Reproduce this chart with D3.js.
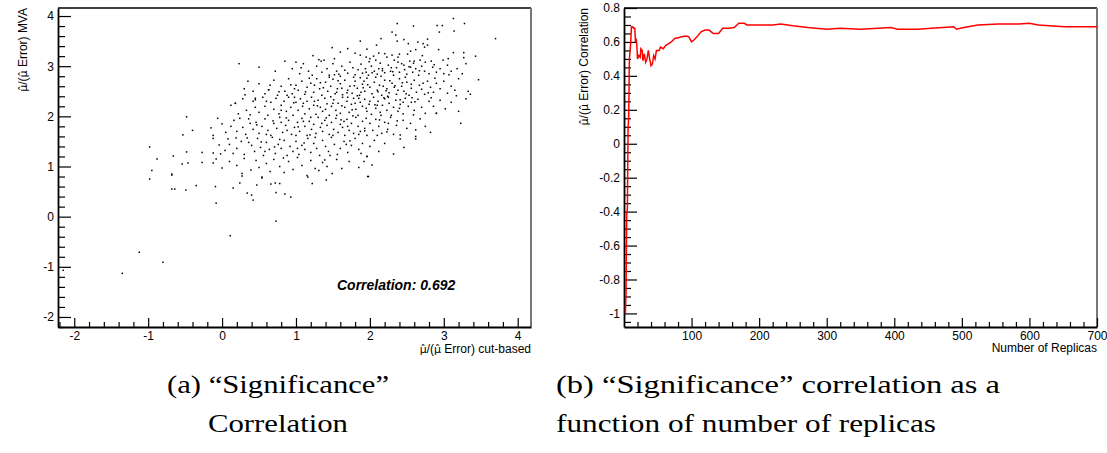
<!DOCTYPE html>
<html><head><meta charset="utf-8">
<script src="https://cdn.jsdelivr.net/npm/d3@7"></script>
<style>body{margin:0;background:#fff}svg{display:block}</style>
</head><body>
<svg id="c" width="1107" height="453"></svg>
<script>
// ---------- data ----------
const scatterPoints = [
[2.37,3.85],[2.59,3.8],[2.91,3.81],[2.98,3.81],[3.13,3.95],[3.28,3.85],[3.14,3.7],[2.94,3.68],[3.7,3.55],[2.3,3.68],[2.35,3.62],[2.37,3.5],
[2.46,3.53],[2.52,3.45],[2.65,3.48],[2.72,3.45],[2.78,3.54],[2.78,3.42],[2.74,3.38],[2.62,3.33],[2.55,3.3],[2.51,3.24],[2.4,3.24],[2.38,3.18],[1.87,3.5],[2.09,3.42],[1.96,3.34],[1.8,3.26],[2.12,3.26],[2.2,3.25],[2.23,3.18],[2.3,3.22],[1.31,3.13],[1.34,3.1],[1.87,3.22],[1.95,3.18],[2.0,3.15],[2.05,3.2],[2.08,3.12],[2.93,3.33],[3.13,3.27],[3.27,3.27],[3.27,3.17],[3.43,3.2],[3.06,3.15],[2.99,3.12],[2.83,3.1],[2.75,3.08],[2.68,3.12],[2.59,3.06],[2.54,3.1],[2.46,3.02],[2.38,3.08],[1.6,3.28],[1.7,3.35],[2.15,3.55],[1.52,3.15],
[0.95,2.95],[1.05,2.85],[1.17,2.9],[1.22,2.82],[1.28,3.0],[1.35,2.88],[1.42,2.95],[1.45,2.82],[1.5,3.05],[1.55,2.9],[1.58,2.84],[1.62,3.0],[1.66,2.92],[1.7,2.86],[1.73,3.08],[1.77,2.97],[1.8,2.83],[1.84,2.93],[1.88,3.04],[1.9,2.86],[1.94,2.95],[1.98,2.82],[2.02,3.0],[2.06,2.9],[2.1,2.84],[2.14,3.06],[2.17,2.95],[2.2,2.87],[2.25,3.02],[2.28,2.9],[2.32,2.82],[2.36,2.97],[2.4,2.88],[2.43,3.05],[2.47,2.93],[2.5,2.84],[2.55,2.98],[2.58,2.88],[2.62,2.95],[2.66,2.82],[2.7,3.0],[2.74,2.9],[2.8,2.85],[2.85,2.98],[2.9,2.88],[2.95,2.95],[3.0,2.85],[3.05,3.02],[3.1,2.9],[3.18,2.95],[3.25,2.85],[3.3,3.05],[0.72,2.9],[0.85,3.1],[1.1,3.05],[1.38,3.12],[1.95,2.88],[2.12,2.95],[2.33,3.12],[2.6,3.1],[2.15,2.8],[1.6,2.8],[0.5,2.98],[1.0,3.08],
[0.3,2.55],[0.42,2.5],[0.5,2.65],[0.58,2.45],[0.63,2.53],[0.7,2.72],[0.75,2.42],[0.8,2.6],[0.85,2.5],[0.9,2.75],[0.95,2.45],[1.0,2.62],[1.03,2.52],[1.08,2.7],[1.12,2.44],[1.15,2.58],[1.2,2.66],[1.24,2.48],[1.28,2.75],[1.32,2.55],[1.35,2.42],[1.4,2.68],[1.43,2.5],[1.47,2.6],[1.5,2.74],[1.53,2.45],[1.56,2.55],[1.6,2.65],[1.63,2.43],[1.66,2.72],[1.7,2.52],[1.73,2.6],[1.76,2.46],[1.8,2.7],[1.83,2.56],[1.86,2.42],[1.9,2.64],[1.93,2.5],[1.96,2.76],[2.0,2.58],[2.03,2.45],[2.06,2.68],[2.1,2.52],[2.13,2.62],[2.16,2.42],[2.2,2.72],[2.23,2.55],[2.26,2.47],[2.3,2.66],[2.33,2.58],[2.36,2.44],[2.4,2.75],[2.43,2.6],[2.46,2.5],[2.5,2.68],[2.53,2.42],[2.56,2.56],[2.6,2.72],[2.63,2.48],[2.67,2.62],[2.7,2.54],[2.74,2.44],[2.78,2.7],[2.82,2.58],[2.86,2.48],[2.9,2.66],[2.95,2.55],[3.0,2.7],[3.05,2.46],[3.1,2.6],[3.15,2.52],[3.2,2.75],[3.33,2.5],[3.36,2.44],[3.47,2.73],[1.18,2.76],[1.45,2.78],[1.78,2.78],[2.08,2.78],[2.38,2.52],[1.25,2.62],[1.55,2.48],[1.88,2.48],[2.18,2.6],[2.48,2.78],[2.72,2.66],[0.65,2.62],[0.98,2.55],[1.62,2.56],[1.92,2.7],[2.24,2.4],[2.56,2.64],[2.88,2.76],[0.88,2.42],[0.35,2.7],[0.63,2.53],
[0.12,2.22],[0.18,2.26],[0.22,2.05],[0.28,2.35],[0.33,2.12],[0.38,2.03],[0.42,2.3],[0.45,2.18],[0.5,2.08],[0.55,2.38],[0.58,2.2],[0.62,2.02],[0.66,2.28],[0.7,2.14],[0.73,2.36],[0.77,2.05],[0.8,2.22],[0.84,2.3],[0.87,2.1],[0.9,2.38],[0.93,2.18],[0.96,2.02],[1.0,2.28],[1.03,2.12],[1.06,2.35],[1.09,2.2],[1.12,2.05],[1.15,2.3],[1.18,2.15],[1.21,2.38],[1.24,2.22],[1.27,2.04],[1.3,2.32],[1.33,2.18],[1.36,2.1],[1.39,2.36],[1.42,2.25],[1.45,2.02],[1.48,2.2],[1.51,2.33],[1.54,2.12],[1.57,2.26],[1.6,2.06],[1.63,2.38],[1.66,2.18],[1.69,2.3],[1.72,2.08],[1.75,2.24],[1.78,2.36],[1.81,2.14],[1.84,2.02],[1.87,2.28],[1.9,2.2],[1.93,2.34],[1.96,2.1],[1.99,2.24],[2.02,2.04],[2.05,2.38],[2.08,2.16],[2.11,2.3],[2.14,2.08],[2.17,2.22],[2.2,2.35],[2.23,2.12],[2.26,2.26],[2.29,2.02],[2.32,2.18],[2.35,2.32],[2.38,2.1],[2.41,2.24],[2.45,2.05],[2.48,2.36],[2.52,2.2],[2.56,2.28],[2.6,2.12],[2.65,2.34],[2.7,2.18],[2.75,2.06],[2.8,2.3],[2.86,2.2],[2.9,2.06],[2.95,2.32],[3.02,2.15],[3.1,2.28],[3.2,2.1],[3.3,2.35],[2.0,2.3],[1.7,2.38],[1.4,2.14],[1.1,2.26],[0.8,2.12],[1.55,2.02],[1.85,2.36],[2.15,2.02],[2.45,2.28],[1.25,2.3],[1.95,2.16],[2.25,2.38],[0.6,2.3],[0.98,2.38],[1.5,2.26],[1.8,2.26],[2.1,2.22],[2.4,2.16],[0.45,2.36],[0.18,2.26],[0.45,2.33],[0.23,3.05],
[-0.48,1.99],[-0.4,1.72],[-0.15,1.77],[-0.12,1.62],[-0.06,1.96],[0.12,1.8],[0.24,1.96],[0.38,1.86],[0.0,1.85],[0.05,1.68],[0.16,1.92],[0.2,1.7],[0.28,1.78],[0.32,1.64],[0.36,1.95],[0.42,1.74],[0.46,1.88],[0.5,1.66],[0.54,1.8],[0.58,1.95],[0.62,1.72],[0.66,1.62],[0.7,1.86],[0.74,1.76],[0.78,1.98],[0.82,1.68],[0.86,1.82],[0.9,1.92],[0.94,1.64],[0.98,1.78],[1.02,1.88],[1.05,1.7],[1.08,1.96],[1.12,1.8],[1.15,1.62],[1.18,1.9],[1.21,1.74],[1.24,1.84],[1.27,1.66],[1.3,1.98],[1.33,1.78],[1.36,1.7],[1.39,1.92],[1.42,1.82],[1.45,1.64],[1.48,1.88],[1.51,1.74],[1.54,1.96],[1.57,1.68],[1.6,1.84],[1.63,1.78],[1.66,1.62],[1.69,1.94],[1.72,1.72],[1.75,1.86],[1.78,1.66],[1.81,1.98],[1.84,1.8],[1.87,1.7],[1.9,1.9],[1.93,1.76],[1.96,1.62],[2.0,1.86],[2.04,1.72],[2.08,1.94],[2.12,1.8],[2.16,1.66],[2.2,1.88],[2.24,1.74],[2.28,1.98],[2.32,1.64],[2.36,1.82],[2.41,1.63],[2.45,1.92],[2.5,1.76],[2.55,1.86],[2.62,1.73],[2.68,1.95],[2.75,1.8],[2.9,2.06],[2.82,1.68],[3.23,1.86],[1.0,1.62],[1.2,1.98],[1.5,1.62],[1.7,1.8],[1.95,1.96],[2.1,1.62],[0.8,1.88],[0.6,1.64],[1.35,1.86],[1.65,1.9],[1.85,1.64],[2.25,1.86],[0.88,1.72],[1.1,1.9],
[-0.98,1.39],[-0.88,1.15],[-0.66,1.21],[-0.53,1.63],[-0.48,1.29],[-0.27,1.28],[-0.12,1.56],[-0.12,1.27],[-0.04,1.43],[-0.02,1.25],[0.08,1.55],[0.15,1.26],[0.34,1.57],[0.04,1.32],[0.1,1.44],[0.2,1.36],[0.26,1.5],[0.3,1.24],[0.4,1.42],[0.44,1.3],[0.48,1.56],[0.52,1.38],[0.56,1.22],[0.6,1.48],[0.64,1.34],[0.68,1.58],[0.72,1.26],[0.76,1.44],[0.8,1.36],[0.84,1.52],[0.88,1.22],[0.92,1.4],[0.96,1.3],[1.0,1.5],[1.04,1.24],[1.08,1.42],[1.12,1.34],[1.16,1.56],[1.2,1.28],[1.24,1.46],[1.28,1.36],[1.32,1.22],[1.36,1.52],[1.4,1.4],[1.44,1.3],[1.48,1.58],[1.52,1.44],[1.56,1.24],[1.6,1.36],[1.65,1.5],[1.7,1.28],[1.75,1.42],[1.8,1.56],[1.85,1.34],[1.9,1.46],[1.96,1.2],[2.0,1.4],[2.06,1.52],[2.12,1.3],[2.2,1.46],[2.32,1.25],[2.41,1.55],[2.46,1.38],[2.62,1.55],[2.62,1.6],[0.36,1.48],[0.58,1.3],[0.78,1.54],[1.02,1.36],[1.26,1.58],[1.46,1.22],[1.68,1.44],[1.88,1.26],
[-0.95,0.92],[-0.68,0.85],[-0.54,1.05],[-0.46,1.07],[-0.27,1.08],[-0.12,1.07],[0.0,0.97],[-0.08,1.15],[0.1,1.1],[0.2,1.02],[0.27,0.86],[0.39,0.93],[0.3,1.16],[0.46,1.12],[0.5,0.98],[0.6,1.06],[0.65,0.9],[0.7,1.14],[0.78,1.0],[0.84,0.88],[0.9,1.1],[0.96,0.94],[1.02,1.18],[1.08,1.02],[1.15,0.82],[1.16,0.79],[1.2,1.12],[1.26,0.96],[1.31,0.92],[1.36,1.08],[1.42,1.0],[1.49,0.86],[1.55,1.14],[1.62,0.96],[1.72,1.1],[1.85,0.98],[1.96,1.2],[1.98,0.8],[2.03,1.03],[1.92,1.1],[0.54,0.77],
[-0.98,0.75],[-0.68,0.83],[-0.68,0.55],[-0.64,0.55],[-0.49,0.53],[-0.35,0.62],[-0.09,0.6],[-0.08,0.27],[0.15,0.57],[0.24,0.67],[0.27,0.81],[0.34,0.47],[0.4,0.43],[0.42,0.33],[0.47,0.63],[0.54,0.79],[0.66,0.65],[0.73,0.48],[0.72,0.67],[0.78,0.66],[0.85,0.45],[0.93,0.39],[1.22,0.66],[1.41,0.73],[1.97,0.8],
[0.11,-0.38],[0.73,-0.09],[-1.12,-0.71],[-0.8,-0.91],[-1.35,-1.13],[-2.15,-1.07],
[1.83,2.41],[1.97,2.63],[2.11,2.49],[2.27,2.71],[2.41,2.33],[1.69,2.47],[1.57,2.71],[2.03,2.87],[2.19,2.37],[2.34,2.61],[1.76,2.13],[1.91,2.57],[2.07,2.23],[2.22,2.51],[2.49,2.45],[1.47,2.39],[1.62,2.21],[1.79,2.61],[2.31,2.89],[2.57,2.37],[1.37,2.57],[1.52,2.83],[1.87,2.77],[2.44,2.67],[2.67,2.91],[2.79,2.47],[1.29,2.21],[1.13,2.49],[0.97,2.27],[1.41,1.97],[1.61,1.93],[1.77,2.01],[2.17,2.91],[2.53,2.99],[2.71,3.21],[2.87,3.03],[1.03,1.79],[1.19,1.63],[0.87,1.97],[0.69,1.91],[1.33,2.67],[1.99,3.09],[2.29,2.97],[2.61,2.29],[2.83,2.37],[3.07,2.83],[3.17,2.41],[1.73,1.51],[1.93,1.71],[2.13,1.93],[0.93,2.63],[0.77,2.49],[1.07,2.97],[1.23,3.21],[1.49,3.37],[2.59,2.03],[2.37,1.91],[2.23,1.69],[0.53,1.49],[0.71,1.39],[1.11,1.47],[1.39,1.13],[0.83,1.17],[0.47,1.83],[0.19,1.57],[0.31,2.43]
];
const correlationText = "Correlation: 0.692";

const corrN = [2,3,4,5,6,7,8,9,10,11,13,14,16,17,18,19,20,22,24,25,27,28,30,32,34,36,38,40,42,44,46,48,52,54,58,62,66,70,75,80,85,92,96,100,103,108,114,120,126,132,140,146,155,163,170,178,182,200,220,232,250,272,300,320,350,395,405,435,455,488,492,503,524,554,584,600,613,652,700];
const corrR = [-1.0,-0.88,-0.42,-0.38,0.08,0.17,0.5,0.55,0.6,0.69,0.69,0.68,0.68,0.6,0.62,0.58,0.5,0.52,0.51,0.56,0.55,0.49,0.53,0.48,0.5,0.55,0.5,0.46,0.47,0.52,0.5,0.55,0.55,0.57,0.56,0.58,0.59,0.6,0.62,0.625,0.63,0.635,0.63,0.6,0.61,0.63,0.66,0.67,0.67,0.65,0.65,0.68,0.68,0.685,0.71,0.71,0.7,0.7,0.7,0.705,0.695,0.685,0.675,0.68,0.675,0.685,0.675,0.675,0.68,0.69,0.675,0.685,0.7,0.705,0.705,0.71,0.7,0.69,0.69];

const leftXTicks = [-2,-1,0,1,2,3,4];
const leftYTicks = [-2,-1,0,1,2,3,4];
const rightXTicks = [100,200,300,400,500,600,700];
const rightYTicks = [-1,-0.8,-0.6,-0.4,-0.2,0,0.2,0.4,0.6,0.8];

const leftXTitle = "/(\u03BC\u0302 Error) cut-based";
const leftYTitle = "/(\u03BC\u0302 Error) MVA";
const rightXTitle = "Number of Replicas";
const rightYTitle = "/(\u03BC\u0302 Error) Correlation";
const captionA = ["(a) \u201CSignificance\u201D", "Correlation"];
const captionB = ["(b) \u201CSignificance\u201D correlation as a", "function of number of replicas"];

// ---------- drawing ----------
const svg = d3.select("#c");
const SANS = "'Liberation Sans', Arial, Helvetica, sans-serif";
const SERIF = "'Liberation Serif', 'Times New Roman', serif";
const fmt = d => String(+(+d).toFixed(2));

function muTitle(sel, rest) {
  sel.append("tspan").attr("font-family", "'DejaVu Sans', sans-serif").attr("font-size", 11).text("\u03BC\u0302");
  sel.append("tspan").text(rest.replace("\u03BC\u0302", "")).call(t => {
    // inner mu with hat rendered in DejaVu for proper combining
  });
}

function titleText(g, text) {
  // split around the combining mu-hat so it renders with DejaVu Sans
  const parts = ("\u03BC\u0302" + text).split("\u03BC\u0302");
  parts.forEach((p, i) => {
    if (i > 0) g.append("tspan").attr("font-family", "'DejaVu Sans', sans-serif").attr("font-size", 11).text("\u03BC\u0302");
    if (p) g.append("tspan").text(p);
  });
}

function panel(cfg) {
  const g = svg.append("g");
  const x = cfg.x, y = cfg.y;
  const [x0, x1] = x.range(), [y0, y1] = y.range();
  g.append("line").attr("x1", x0).attr("x2", x1).attr("y1", y1).attr("y2", y1).attr("stroke", "#000").attr("stroke-width", 1.5);
  g.append("line").attr("x1", x1).attr("x2", x1).attr("y1", y1).attr("y2", y0).attr("stroke", "#777").attr("stroke-width", 2);
  const yMin = d3.axisLeft(y).tickValues(cfg.yMinor).tickSize(-7).tickSizeOuter(0).tickFormat("");
  g.append("g").attr("transform", `translate(${x0},0)`).call(yMin).call(s => s.select(".domain").remove());
  const xMin = d3.axisBottom(x).tickValues(cfg.xMinor).tickSize(-5).tickSizeOuter(0).tickFormat("");
  g.append("g").attr("transform", `translate(0,${y0})`).call(xMin).call(s => s.select(".domain").remove());
  const yAx = d3.axisLeft(y).tickValues(cfg.yTicks).tickSize(-13).tickSizeOuter(0).tickPadding(4).tickFormat(fmt);
  g.append("g").attr("transform", `translate(${x0},0)`).call(yAx);
  const xAx = d3.axisBottom(x).tickValues(cfg.xTicks).tickSize(-9).tickSizeOuter(0).tickPadding(4).tickFormat(fmt);
  g.append("g").attr("transform", `translate(0,${y0})`).call(xAx);
  g.selectAll(".tick line").attr("stroke", "#000").attr("stroke-width", 1.2);
  g.selectAll(".domain").attr("stroke", "#000").attr("stroke-width", 1.8);
  g.selectAll(".tick text").attr("font-family", SANS).attr("font-size", 12).attr("fill", "#000");
  const xt = g.append("text").attr("x", x1).attr("y", cfg.xTitleY).attr("text-anchor", "end")
    .attr("font-family", SANS).attr("font-size", 12);
  if (cfg.xMu) titleText(xt, cfg.xTitle); else xt.text(cfg.xTitle);
  const yt = g.append("text").attr("transform", `translate(${cfg.yTitleX},${y1}) rotate(-90)`).attr("text-anchor", "end")
    .attr("font-family", SANS).attr("font-size", 12);
  titleText(yt, cfg.yTitle);
  return g;
}

// left scatter panel
const xL = d3.scaleLinear().domain([-2.22, 4.18]).range([58, 531]);
const yL = d3.scaleLinear().domain([-2.2, 4.16]).range([327, 8]);
const gL = panel({
  x: xL, y: yL, xTicks: leftXTicks, yTicks: leftYTicks,
  xMinor: d3.range(-22, 42, 2).map(v => v / 10).filter(v => Math.abs(v - Math.round(v)) > 1e-6),
  yMinor: d3.range(-22, 42, 2).map(v => v / 10).filter(v => Math.abs(v - Math.round(v)) > 1e-6 && v < 4.16),
  xTitle: leftXTitle, xMu: true, yTitle: leftYTitle, xTitleY: 353, yTitleX: 27
});
gL.append("g").selectAll("rect").data(scatterPoints).join("rect")
  .attr("x", d => xL(d[0]) - 0.75).attr("y", d => yL(d[1]) - 0.75)
  .attr("width", 1.5).attr("height", 1.5).attr("fill", "#000");
gL.append("text").attr("x", 337).attr("y", 290).attr("font-family", SANS)
  .attr("font-size", 14).attr("font-weight", "bold").attr("font-style", "italic").text(correlationText);

// right correlation panel
const xR = d3.scaleLinear().domain([0, 700]).range([624, 1097]);
const yR = d3.scaleLinear().domain([-1.08, 0.8]).range([327, 8]);
const gR = panel({
  x: xR, y: yR, xTicks: rightXTicks, yTicks: rightYTicks,
  xMinor: d3.range(20, 700, 20).filter(v => v % 100 !== 0),
  yMinor: d3.range(-105, 80, 5).map(v => v / 100).filter(v => Math.abs(v * 5 - Math.round(v * 5)) > 1e-6),
  xTitle: rightXTitle, xMu: false, yTitle: rightYTitle, xTitleY: 352, yTitleX: 588
});
const corrData = corrN.map((n, i) => [n, corrR[i]]);
gR.append("path").datum(corrData)
  .attr("d", d3.line().x(d => xR(d[0])).y(d => yR(d[1])))
  .attr("fill", "none").attr("stroke", "#ff0000").attr("stroke-width", 1.5);

// captions
function caption(lines, specs) {
  lines.forEach((t, i) => {
    const s = specs[i];
    svg.append("text").attr("x", s.x).attr("y", s.y).attr("text-anchor", s.anchor)
      .attr("font-family", SERIF).attr("font-size", 26).attr("fill", "#000")
      .attr("textLength", s.w).attr("lengthAdjust", "spacingAndGlyphs").text(t);
  });
}
caption(captionA, [{x: 278, y: 393, anchor: "middle", w: 222}, {x: 278, y: 432, anchor: "middle", w: 140}]);
caption(captionB, [{x: 556, y: 393, anchor: "start", w: 444}, {x: 556, y: 432, anchor: "start", w: 380}]);
</script>
</body></html>
